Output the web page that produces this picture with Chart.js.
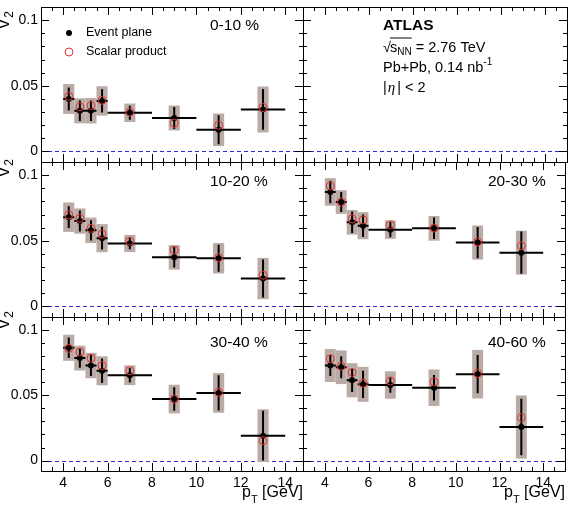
<!DOCTYPE html>
<html>
<head>
<meta charset="utf-8">
<title>v2 vs pT</title>
<script src="https://cdn.jsdelivr.net/npm/chart.js@4.4.1/dist/chart.umd.min.js"></script>
<style>
  body { margin: 0; background: #fff; }
  #wrap { position: relative; width: 570px; height: 510px; }
  #wrap canvas { position: absolute; left: 0; top: 0; }
</style>
</head>
<body>
<div id="wrap">
  <canvas id="p0" width="570" height="510"></canvas>
  <canvas id="p1" width="570" height="510"></canvas>
  <canvas id="p2" width="570" height="510"></canvas>
  <canvas id="p3" width="570" height="510"></canvas>
  <canvas id="p4" width="570" height="510"></canvas>
  <canvas id="p5" width="570" height="510"></canvas>
</div>
<script>
// pT bins
const ptCenter = [4.25, 4.75, 5.25, 5.75, 7, 9, 11, 13];
const ptLow = [4, 4.5, 5, 5.5, 6, 8, 10, 12];
const ptHigh = [4.5, 5, 5.5, 6, 8, 10, 12, 14];
const xTicks = [4, 6, 8, 10, 12, 14];
const yTicks = [0, 0.05, 0.1];

// 0-10 %
const ep0010 = [0.040, 0.031, 0.031, 0.0385, 0.0295, 0.0255, 0.0165, 0.032];
const sp0010 = [0.042, 0.034, 0.035, 0.039, 0.030, 0.0215, 0.020, 0.0335];
const stat0010 = [0.0088, 0.0078, 0.0078, 0.0088, 0.0053, 0.0083, 0.011, 0.0155];
const sys0010 = [0.0114, 0.0095, 0.0097, 0.0112, 0.007, 0.0095, 0.0124, 0.0175];

// 10-20 %
const ep1020 = [0.068, 0.065, 0.058, 0.052, 0.048, 0.0374, 0.0367, 0.0213];
const sp1020 = [0.0697, 0.0672, 0.0595, 0.0551, 0.0497, 0.043, 0.0372, 0.0238];
const stat1020 = [0.0083, 0.008, 0.0077, 0.0087, 0.0045, 0.0078, 0.0103, 0.0145];
const sys1020 = [0.0112, 0.0096, 0.0097, 0.0107, 0.0065, 0.0093, 0.0116, 0.0157];

// 20-30 %
const ep2030 = [0.0872, 0.0795, 0.0641, 0.0615, 0.0585, 0.0595, 0.0487, 0.041];
const sp2030 = [0.0918, 0.0795, 0.0667, 0.0659, 0.0623, 0.0597, 0.0492, 0.0462];
const stat2030 = [0.0086, 0.0076, 0.0082, 0.0086, 0.0058, 0.0082, 0.0119, 0.016];
const sys2030 = [0.0105, 0.009, 0.0094, 0.0103, 0.007, 0.0094, 0.013, 0.0167];

// 30-40 %
const ep3040 = [0.0864, 0.0785, 0.0728, 0.0688, 0.0654, 0.0471, 0.0518, 0.0191];
const sp3040 = [0.0859, 0.0832, 0.0785, 0.0728, 0.0688, 0.0471, 0.0524, 0.0152];
const stat3040 = [0.0079, 0.0073, 0.0081, 0.0094, 0.0055, 0.009, 0.0135, 0.019];
const sys3040 = [0.01, 0.0095, 0.0097, 0.0111, 0.0076, 0.011, 0.0152, 0.0202];

// 40-60 %
const ep4060 = [0.0728, 0.0715, 0.0615, 0.0584, 0.0579, 0.0558, 0.0662, 0.0257];
const sp4060 = [0.078, 0.0723, 0.0675, 0.0592, 0.061, 0.0602, 0.0668, 0.033];
const stat4060 = [0.0081, 0.0085, 0.0089, 0.0105, 0.0059, 0.0098, 0.0147, 0.0216];
const sys4060 = [0.0126, 0.0129, 0.0131, 0.0134, 0.0105, 0.014, 0.0186, 0.0242];

const panels = [
  { id: 'p0', row: 0, col: 0, label: '0-10 %', ep: ep0010, sp: sp0010, stat: stat0010, sys: sys0010, legend: true },
  { id: 'p1', row: 0, col: 1, atlas: true },
  { id: 'p2', row: 1, col: 0, label: '10-20 %', ep: ep1020, sp: sp1020, stat: stat1020, sys: sys1020 },
  { id: 'p3', row: 1, col: 1, label: '20-30 %', ep: ep2030, sp: sp2030, stat: stat2030, sys: sys2030 },
  { id: 'p4', row: 2, col: 0, label: '30-40 %', ep: ep3040, sp: sp3040, stat: stat3040, sys: sys3040 },
  { id: 'p5', row: 2, col: 1, label: '40-60 %', ep: ep4060, sp: sp4060, stat: stat4060, sys: sys4060 }
];

// pad geometry (pixels)
const rowTop = [7, 162, 317];
const rowBottom = [162, 317, 471];
const colLeft = [41, 303];
const colRight = [303, 567];
const colXMax = [14.8, 15];
const labelDx = [169, 185];
const labelDy = [18.7, 19.7, 26];
const titleEnd = [11, 159, 311];

const FONT = "'Liberation Sans', Arial, sans-serif";
const RED = '#e3342f';
const BOX = 'rgb(187,171,166)';

function line(ctx, x0, y0, x1, y1) {
  ctx.moveTo(x0, y0);
  ctx.lineTo(x1, y1);
}

function decoPlugin(p) {
  return {
    id: 'deco' + p.id,
    beforeDatasetsDraw(chart) {
      const { ctx, chartArea: a, scales: { x, y } } = chart;
      ctx.save();
      ctx.beginPath();
      ctx.rect(a.left, a.top, a.right - a.left, a.bottom - a.top);
      ctx.clip();

      // dashed line at zero
      const y0 = Math.round(y.getPixelForValue(0)) + 0.5;
      ctx.strokeStyle = '#2a2ad6';
      ctx.lineWidth = 1;
      ctx.setLineDash([4, 3]);
      ctx.beginPath();
      line(ctx, a.left, y0, a.right, y0);
      ctx.stroke();
      ctx.setLineDash([]);

      if (p.ep) {
        // systematic boxes
        ctx.fillStyle = BOX;
        ptCenter.forEach((c, i) => {
          const xl = x.getPixelForValue(c - 0.25), xr = x.getPixelForValue(c + 0.25);
          const yt = y.getPixelForValue(p.ep[i] + p.sys[i]), yb = y.getPixelForValue(p.ep[i] - p.sys[i]);
          ctx.fillRect(xl, yt, xr - xl, yb - yt);
        });
        // stat errors and bin widths
        ctx.strokeStyle = '#000';
        ctx.lineWidth = 2;
        ctx.beginPath();
        ptCenter.forEach((c, i) => {
          const xc = x.getPixelForValue(c), yc = y.getPixelForValue(p.ep[i]);
          line(ctx, xc, y.getPixelForValue(p.ep[i] + p.stat[i]), xc, y.getPixelForValue(p.ep[i] - p.stat[i]));
          line(ctx, x.getPixelForValue(ptLow[i]), yc, x.getPixelForValue(ptHigh[i]), yc);
        });
        ctx.stroke();
      }
      ctx.restore();
    },
    afterDraw(chart) {
      const { ctx, chartArea: a, scales: { x, y } } = chart;
      ctx.save();
      ctx.strokeStyle = '#000';
      ctx.lineWidth = 1;

      // frame
      ctx.strokeRect(Math.round(a.left) + 0.5, Math.round(a.top) + 0.5,
        Math.round(a.right - a.left), Math.round(a.bottom - a.top));

      // inward ticks on all four sides
      ctx.beginPath();
      for (let k = 7; k * 0.5 < x.max - 0.01; k++) {
        const v = k * 0.5;
        const px = Math.round(x.getPixelForValue(v)) + 0.5;
        const len = (k % 4 === 0) ? 8 : 4;
        line(ctx, px, a.bottom, px, a.bottom - len);
        line(ctx, px, a.top, px, a.top + len);
      }
      for (let k = 0; k <= 10; k++) {
        const py = Math.round(y.getPixelForValue(k * 0.01)) + 0.5;
        const len = (k % 5 === 0) ? 8 : 4;
        line(ctx, a.left, py, a.left + len, py);
        line(ctx, a.right, py, a.right - len, py);
      }
      ctx.stroke();

      ctx.fillStyle = '#000';
      ctx.textBaseline = 'middle';

      if (p.label) {
        ctx.font = '15.5px ' + FONT;
        ctx.fillText(p.label, a.left + labelDx[p.col], a.top + labelDy[p.row]);
      }

      if (p.legend) {
        ctx.beginPath();
        ctx.arc(69, 33, 3, 0, Math.PI * 2);
        ctx.fill();
        ctx.beginPath();
        ctx.strokeStyle = RED;
        ctx.arc(69, 52, 4, 0, Math.PI * 2);
        ctx.stroke();
        ctx.font = '12.5px ' + FONT;
        ctx.fillText('Event plane', 86, 33);
        ctx.fillText('Scalar product', 86, 52);
      }

      if (p.atlas) {
        const x0 = 383;
        ctx.textBaseline = 'alphabetic';
        ctx.font = 'bold 15.5px ' + FONT;
        ctx.fillText('ATLAS', x0, 30);

        ctx.font = '14.5px ' + FONT;
        ctx.fillText('\u221A', x0, 51.5);
        let cx = x0 + ctx.measureText('\u221A').width - 1;
        const sx = cx;
        ctx.fillText('s', cx, 51.5);
        cx += ctx.measureText('s').width;
        ctx.font = '10px ' + FONT;
        ctx.fillText('NN', cx, 55);
        cx += ctx.measureText('NN').width;
        ctx.beginPath();
        ctx.strokeStyle = '#000';
        line(ctx, sx, 38, cx, 38);
        ctx.stroke();
        ctx.font = '14.5px ' + FONT;
        ctx.fillText(' = 2.76 TeV', cx, 51.5);

        ctx.fillText('Pb+Pb, 0.14 nb', x0, 71.5);
        const w = ctx.measureText('Pb+Pb, 0.14 nb').width;
        ctx.font = '10px ' + FONT;
        ctx.fillText('-1', x0 + w, 65);

        ctx.font = '14.5px ' + FONT;
        ctx.fillText('|', x0, 91.5);
        let ex = x0 + ctx.measureText('|').width + 1;
        ctx.font = 'italic 15px "Liberation Serif", serif';
        ctx.fillText('\u03B7', ex, 91.5);
        ex += ctx.measureText('\u03B7').width + 2;
        ctx.font = '14.5px ' + FONT;
        ctx.fillText('| < 2', ex, 91.5);
      }

      // y title v_2 for left column
      if (p.col === 0) {
        ctx.save();
        ctx.translate(9, titleEnd[p.row]);
        ctx.rotate(-Math.PI / 2);
        ctx.textBaseline = 'alphabetic';
        ctx.textAlign = 'left';
        ctx.font = '12px ' + FONT;
        const w2 = ctx.measureText('2').width;
        ctx.font = '17px ' + FONT;
        const wv = ctx.measureText('v').width;
        ctx.fillText('v', -(wv + w2 + 2), 0);
        ctx.font = '12px ' + FONT;
        ctx.fillText('2', -w2, 4);
        ctx.restore();
      }

      // x title on bottom row
      if (p.row === 2) {
        ctx.textBaseline = 'alphabetic';
        ctx.font = '16px ' + FONT;
        const wg = ctx.measureText(' [GeV]').width;
        const wp = ctx.measureText('p').width;
        ctx.font = '11px ' + FONT;
        const wt = ctx.measureText('T').width;
        let tx = a.right - wg - wt - wp;
        ctx.font = '16px ' + FONT;
        ctx.fillText('p', tx, 497);
        tx += wp;
        ctx.font = '11px ' + FONT;
        ctx.fillText('T', tx, 503);
        tx += wt;
        ctx.font = '16px ' + FONT;
        ctx.fillText(' [GeV]', tx, 497);
      }
      ctx.restore();
    }
  };
}

function makePanel(p) {
  const datasets = [];
  if (p.ep) {
    datasets.push({
      label: 'Scalar product',
      data: ptCenter.map((c, i) => ({ x: c, y: p.sp[i] })),
      pointRadius: 4,
      pointBorderWidth: 1,
      pointBorderColor: RED,
      pointBackgroundColor: 'rgba(0,0,0,0)',
      showLine: false,
      order: 0
    });
    datasets.push({
      label: 'Event plane',
      data: ptCenter.map((c, i) => ({ x: c, y: p.ep[i] })),
      pointRadius: 3,
      pointBorderWidth: 0,
      pointBackgroundColor: '#000',
      showLine: false,
      order: 1
    });
  }
  const left = p.col === 0;
  const bottom = p.row === 2;

  new Chart(document.getElementById(p.id), {
    type: 'scatter',
    data: { datasets },
    options: {
      responsive: false,
      animation: false,
      devicePixelRatio: 1,
      events: [],
      layout: {
        padding: {
          left: left ? 0 : colLeft[1],
          right: 570 - colRight[p.col],
          top: rowTop[p.row],
          bottom: bottom ? 0 : 510 - rowBottom[p.row]
        }
      },
      plugins: { legend: { display: false }, tooltip: { enabled: false } },
      scales: {
        x: {
          type: 'linear',
          min: 3,
          max: colXMax[p.col],
          display: bottom,
          grid: { display: false, drawTicks: false },
          border: { display: false },
          ticks: { color: '#000', padding: 4, font: { family: FONT, size: 14 } },
          afterBuildTicks: s => { s.ticks = xTicks.map(v => ({ value: v })); },
          afterFit: s => {
            if (bottom) s.height = 39;
            s.paddingLeft = 0;
            s.paddingRight = 0;
          }
        },
        y: {
          type: 'linear',
          min: -0.008,
          max: 0.11,
          display: left,
          grid: { display: false, drawTicks: false },
          border: { display: false },
          ticks: {
            color: '#000', padding: 3, font: { family: FONT, size: 14 },
            callback: v => String(+v.toFixed(2))
          },
          afterBuildTicks: s => { s.ticks = yTicks.map(v => ({ value: v })); },
          afterFit: s => {
            if (left) s.width = 41;
            s.paddingTop = 0;
            s.paddingBottom = 0;
          }
        }
      }
    },
    plugins: [decoPlugin(p)]
  });
}

panels.forEach(makePanel);
</script>
</body>
</html>
